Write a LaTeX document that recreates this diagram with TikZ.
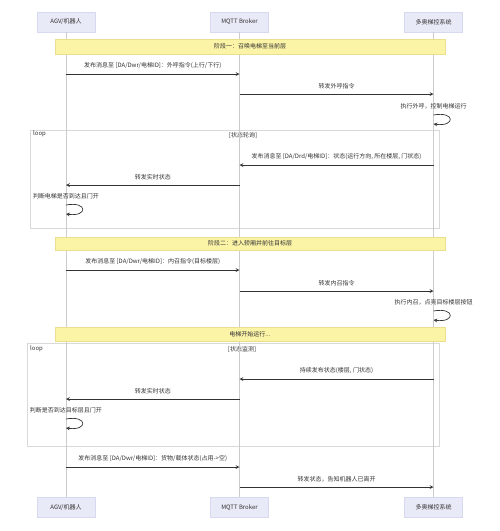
\documentclass[tikz,border=0pt]{standalone}
\usepackage{fontspec}
\setmainfont{Noto Sans CJK SC}
\usetikzlibrary{arrows}
\definecolor{actorfill}{HTML}{E8EAF7}
\definecolor{actorline}{HTML}{D6D9EF}
\definecolor{notefill}{HTML}{FBF3A6}
\definecolor{noteline}{HTML}{E9DF8C}
\definecolor{txt}{HTML}{333333}
\tikzstyle{actor} = [rectangle, text centered, draw=actorline, fill=actorfill, minimum width=58pt, minimum height=20pt, inner sep=2pt, text=txt]
\tikzstyle{note} = [rectangle, text centered, draw=noteline, fill=notefill, minimum width=390pt, inner sep=0pt, text=txt]
\tikzstyle{lifeline} = [draw=gray!40, line width=0.6pt]
\tikzstyle{frame} = [draw=gray!30, line width=0.6pt]
\tikzstyle{message} = [txt, line width=0.7pt, ->, >=stealth]
\tikzstyle{msgtext} = [text=txt, inner sep=1pt]

\begin{document}
\begin{tikzpicture}[x=1pt, y=-1pt, font=\fontsize{6}{7}\selectfont]

    \useasboundingbox (0,0) rectangle (500,531);

    \draw [frame] (30,130) rectangle (439,228);
    \node (loop1) [msgtext, anchor=west] at (32,134) {loop};
    \node (cond1) [msgtext] at (243,135) {[状态轮询]};

    \draw [frame] (27,343) rectangle (439,446);
    \node (loop2) [msgtext, anchor=west] at (29,349) {loop};
    \node (cond2) [msgtext] at (242,349) {[状态监测]};

    \node (agv) [actor] at (66,22) {AGV/机器人};
    \node (broker) [actor] at (239.5,22) {MQTT Broker};
    \node (ctrl) [actor] at (433.5,22) {多奥梯控系统};

    \node (agvB) [actor] at (66,507.5) {AGV/机器人};
    \node (brokerB) [actor] at (239.5,507.5) {MQTT Broker};
    \node (ctrlB) [actor] at (433.5,507.5) {多奥梯控系统};

    \draw [lifeline] (agv) -- (agvB);
    \draw [lifeline] (broker) -- (brokerB);
    \draw [lifeline] (ctrl) -- (ctrlB);

    \node (phase1) [note, minimum height=15pt] at (250,46.5) {阶段一：召唤电梯至当前层};
    \node (phase2) [note, minimum height=13pt] at (250,243.5) {阶段二：进入轿厢并前往目标层};
    \node (running) [note, minimum height=14pt] at (250,334) {电梯开始运行...};

    \draw [message] (agv |- 0,74) -- node [msgtext, above=4pt] {发布消息至 [DA/Dwr/电梯ID]：外呼指令(上行/下行)} (broker |- 0,74);
    \draw [message] (broker |- 0,94) -- node [msgtext, above=4pt] {转发外呼指令} (ctrl |- 0,94);
    \node (self1) [msgtext] at (ctrl |- 0,106) {执行外呼，控制电梯运行};
    \draw [message] (ctrl |- 0,115) .. controls +(22,-4) and +(22,3) .. (ctrl |- 0,124);

    \draw [message] (ctrl |- 0,165) -- node [msgtext, above=4pt] {发布消息至 [DA/Drd/电梯ID]：状态(运行方向, 所在楼层, 门状态)} (broker |- 0,165);
    \draw [message] (broker |- 0,185) -- node [msgtext, above=4pt] {转发实时状态} (agv |- 0,185);
    \node (self2) [msgtext] at (agv |- 0,196) {判断电梯是否到达且门开};
    \draw [message] (agv |- 0,205) .. controls +(22,-4) and +(22,3) .. (agv |- 0,214);

    \draw [message] (agv |- 0,270) -- node [msgtext, above=4pt] {发布消息至 [DA/Dwr/电梯ID]：内召指令(目标楼层)} (broker |- 0,270);
    \draw [message] (broker |- 0,291) -- node [msgtext, above=4pt] {转发内召指令} (ctrl |- 0,291);
    \node (self3) [msgtext] at (ctrl |- 0,302) {执行内召，点亮目标楼层按钮};
    \draw [message] (ctrl |- 0,311) .. controls +(22,-4) and +(22,3) .. (ctrl |- 0,320);

    \draw [message] (ctrl |- 0,379) -- node [msgtext, above=4pt] {持续发布状态(楼层, 门状态)} (broker |- 0,379);
    \draw [message] (broker |- 0,399) -- node [msgtext, above=4pt] {转发实时状态} (agv |- 0,399);
    \node (self4) [msgtext] at (agv |- 0,410) {判断是否到达目标层且门开};
    \draw [message] (agv |- 0,419) .. controls +(22,-4) and +(22,3) .. (agv |- 0,428);

    \draw [message] (agv |- 0,467) -- node [msgtext, above=4pt] {发布消息至 [DA/Dwr/电梯ID]：货物/载体状态(占用->空)} (broker |- 0,467);
    \draw [message] (broker |- 0,487) -- node [msgtext, above=4pt] {转发状态，告知机器人已离开} (ctrl |- 0,487);

\end{tikzpicture}
\end{document}
